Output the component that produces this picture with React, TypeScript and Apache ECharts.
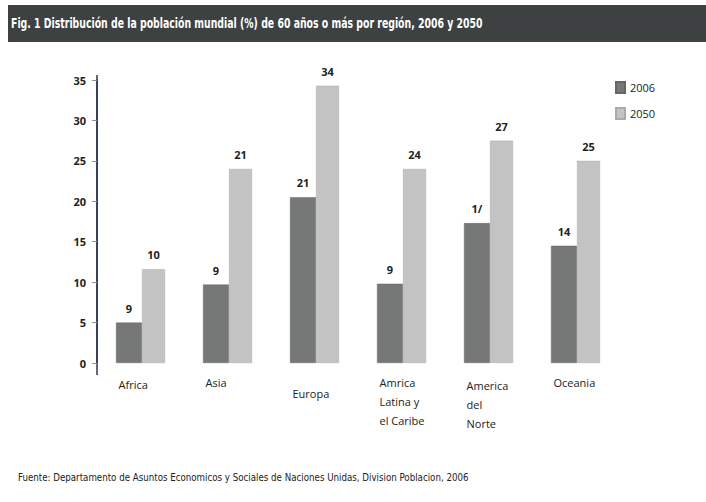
import React, { useEffect, useRef } from "react";
import * as echarts from "echarts";

const titleText = "Fig. 1 Distribución de la población mundial (%) de 60 años o más por región, 2006 y 2050";
const sourceText = "Fuente: Departamento de Asuntos Economicos y Sociales de Naciones Unidas, Division Poblacion, 2006";
const categories = ["Africa", "Asia", "Europa", "Amrica\nLatina y\nel Caribe", "America\ndel\nNorte", "Oceania"];
const categoryPadTop = [2, 0, 11, 0, 3, 0];
const seriesNames = ["2006", "2050"];
// bar heights as drawn in the picture
const values2006 = [5, 9.7, 20.5, 9.8, 17.3, 14.5];
const values2050 = [11.6, 24, 34.3, 24, 27.5, 25];
// numbers printed above the bars
const labels2006 = ["9", "9", "21", "9", "1/", "14"];
const labels2050 = ["10", "21", "34", "24", "27", "25"];
const yTicks = [0, 5, 10, 15, 20, 25, 30, 35];

const narrow = "'DejaVu Sans Condensed', 'DejaVu Sans', sans-serif";
const body = "'Open Sans', 'Noto Sans', sans-serif";

export default function App() {
  const ref = useRef<HTMLDivElement>(null);
  useEffect(() => {
    if (!ref.current) return;
    const chart = echarts.init(ref.current, null, { renderer: "svg" });
    const labelStyle = {
      show: true,
      position: "top",
      distance: 9,
      fontFamily: body,
      fontWeight: "bold",
      fontSize: 11,
      color: "#222",
    };
    const baseGraphic: any[] = [
      { type: "rect", shape: { x: 8, y: 5, width: 698, height: 37 }, style: { fill: "#3d4141" } },
      {
        type: "text",
        x: 11,
        y: 24,
        scaleX: 0.77,
        style: {
          text: titleText,
          fill: "#ffffff",
          font: `bold 13.5px ${narrow}`,
          verticalAlign: "middle",
        },
      },
      {
        type: "text",
        x: 18,
        y: 477,
        scaleX: 0.92,
        style: {
          text: sourceText,
          fill: "#222",
          font: `10.5px ${narrow}`,
          verticalAlign: "middle",
        },
      },
    ];
    chart.setOption({
      animation: false,
      backgroundColor: "#ffffff",
      graphic: baseGraphic,
      legend: {
        orient: "vertical",
        left: 610,
        top: 76,
        itemWidth: 9,
        itemHeight: 11,
        itemGap: 13,
        icon: "rect",
        data: seriesNames,
        textStyle: { fontFamily: body, fontSize: 11, color: "#222" },
      },
      grid: { left: 97, right: 87, top: 80, bottom: 139 },
      xAxis: {
        type: "category",
        data: categories,
        axisLine: { show: false },
        axisTick: { show: false },
        axisLabel: { show: false },
      },
      yAxis: {
        type: "value",
        min: yTicks[0],
        max: yTicks[yTicks.length - 1],
        interval: 5,
        splitLine: { show: false },
        axisLine: { show: true, lineStyle: { color: "#2d3550", width: 1.5 } },
        axisTick: { show: true, length: 5, lineStyle: { color: "#8a8f9a" } },
        axisLabel: { fontFamily: body, fontWeight: "bold", fontSize: 11, color: "#222", margin: 11 },
      },
      series: [
        {
          name: seriesNames[0],
          type: "bar",
          barWidth: 26,
          barGap: "0%",
          data: values2006,
          itemStyle: { color: "#767777", borderColor: "#666", borderWidth: 0.5 },
          label: { ...labelStyle, formatter: (p: any) => labels2006[p.dataIndex] },
        },
        {
          name: seriesNames[1],
          type: "bar",
          barWidth: 23,
          barGap: "0%",
          data: values2050,
          itemStyle: { color: "#c3c3c3", borderColor: "#aaa", borderWidth: 0.5 },
          label: { ...labelStyle, formatter: (p: any) => labels2050[p.dataIndex] },
        },
      ],
    });
    const extra: any[] = categories.map((c, i) => {
      const [x, y] = chart.convertToPixel({ gridIndex: 0 }, [i, 0]) as number[];
      return {
        type: "text",
        x: x - 22,
        y: y + 10 + categoryPadTop[i],
        style: {
          text: c,
          fill: "#222",
          font: `11px ${body}`,
          lineHeight: 19,
          align: "left",
          verticalAlign: "top",
        },
      };
    });
    const top = chart.convertToPixel({ gridIndex: 0 }, [0, 35]) as number[];
    const bottom = chart.convertToPixel({ gridIndex: 0 }, [0, 0]) as number[];
    const axisX = 97;
    extra.push({
      type: "line",
      shape: { x1: axisX, y1: top[1] - 5, x2: axisX, y2: bottom[1] + 12 },
      style: { stroke: "#2d3550", lineWidth: 1.5 },
    });
    chart.setOption({ graphic: [...baseGraphic, ...extra] });
    return () => chart.dispose();
  }, []);
  return (
    <div
      ref={ref}
      style={{ position: "fixed", left: 0, top: 0, width: 706, height: 502, background: "#fff" }}
    />
  );
}
